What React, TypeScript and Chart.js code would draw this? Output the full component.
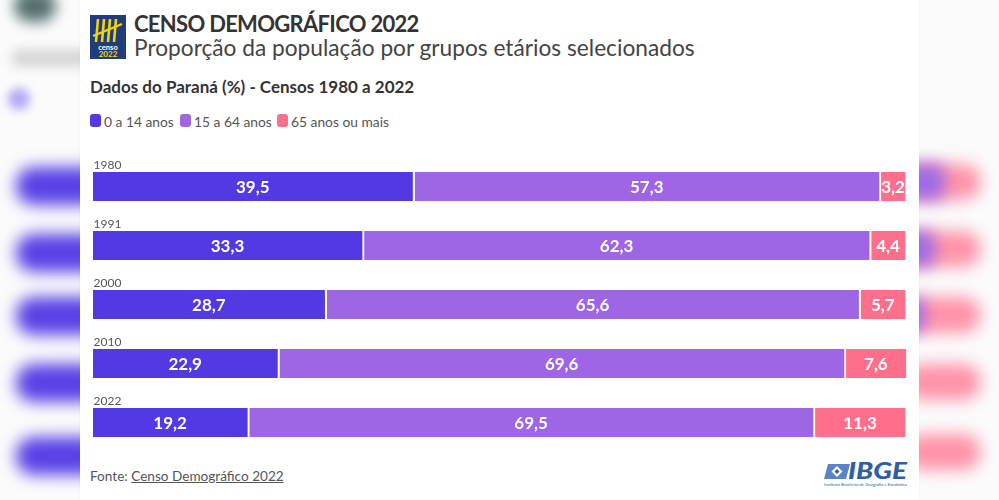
import React, { useEffect, useRef } from "react";
import { Chart, registerables } from "chart.js";

Chart.register(...registerables);

const categories = ["1980", "1991", "2000", "2010", "2022"];
const youngShare = [39.5, 33.3, 28.7, 22.9, 19.2];
const adultShare = [57.3, 62.3, 65.6, 69.6, 69.5];
const seniorShare = [3.2, 4.4, 5.7, 7.6, 11.3];
const seriesNames = ["0 a 14 anos", "15 a 64 anos", "65 anos ou mais"];
const seriesColors = ["#5339e3", "#9e66e4", "#ff6f8c"];

const FONT = "Lato, 'Source Sans Pro', 'Noto Sans', sans-serif";
const BAR_THICKNESS = 29;

const fmt = (v: number) => v.toFixed(1).replace(".", ",");

const labelPlugin = {
  id: "segmentLabels",
  afterDatasetsDraw(chart: any) {
    const ctx = chart.ctx;
    ctx.save();
    ctx.font = `700 17px ${FONT}`;
    ctx.fillStyle = "#ffffff";
    ctx.textAlign = "center";
    ctx.textBaseline = "middle";
    chart.data.datasets.forEach((ds: any, i: number) => {
      const meta = chart.getDatasetMeta(i);
      meta.data.forEach((bar: any, j: number) => {
        const p = bar.getProps(["x", "y", "base"], true);
        const cx = (p.x + p.base) / 2 - 1;
        ctx.fillText(fmt(ds.data[j]), cx, p.y + 1);
      });
    });
    const yScale = chart.scales.y;
    ctx.font = `400 12px ${FONT}`;
    ctx.fillStyle = "#555555";
    ctx.textAlign = "left";
    ctx.textBaseline = "alphabetic";
    categories.forEach((c, j) => {
      const y = yScale.getPixelForValue(j) - BAR_THICKNESS / 2 - 3;
      ctx.fillText(c, chart.chartArea.left + 0.5, y);
    });
    ctx.restore();
  },
};

function BarChart() {
  const ref = useRef<HTMLCanvasElement | null>(null);
  useEffect(() => {
    if (!ref.current) return;
    const seriesData = [youngShare, adultShare, seniorShare];
    const chart = new Chart(ref.current, {
      type: "bar",
      data: {
        labels: categories,
        datasets: seriesNames.map((name, i) => ({
          label: name,
          data: seriesData[i],
          backgroundColor: seriesColors[i],
          borderColor: "#ffffff",
          borderWidth: { top: 0, right: 2, bottom: 0, left: 0 },
          borderSkipped: false,
          barThickness: BAR_THICKNESS,
        })),
      },
      options: {
        indexAxis: "y",
        responsive: false,
        animation: false,
        events: [],
        layout: { padding: { top: 7, bottom: 8, left: 0, right: 0 } },
        scales: {
          x: { stacked: true, min: 0, max: 100, display: false },
          y: { stacked: true, display: false },
        },
        plugins: {
          legend: { display: false },
          tooltip: { enabled: false },
        },
      } as any,
      plugins: [labelPlugin],
    });
    return () => chart.destroy();
  }, []);
  return (
    <canvas
      ref={ref}
      width={814}
      height={310}
      style={{ position: "absolute", left: 93, top: 150, width: 814, height: 310 }}
    />
  );
}

function Text({ x, baseline, size, weight = 400, color = "#333", children, style = {} }: any) {
  return (
    <div
      style={{
        position: "absolute",
        left: x,
        top: baseline - 0.887 * size,
        fontFamily: FONT,
        fontSize: size,
        lineHeight: `${size}px`,
        fontWeight: weight,
        color,
        whiteSpace: "nowrap",
        ...style,
      }}
    >
      {children}
    </div>
  );
}

function Blob({ x, y, w, h, color, blur = 7, r = 16 }: any) {
  return (
    <div
      style={{
        position: "absolute",
        left: x,
        top: y,
        width: w,
        height: h,
        background: color,
        borderRadius: r,
        filter: `blur(${blur}px)`,
      }}
    />
  );
}

export default function App() {
  const legendX = [90, 180, 277];
  const rightBlobs = [
    { y: 164, p: 26 },
    { y: 231, p: 16 },
    { y: 297, p: 6 },
    { y: 364, p: 0 },
    { y: 434, p: 0 },
  ];
  const leftBlobY = [167, 234, 297, 364, 437];
  return (
    <div
      style={{
        position: "fixed",
        left: 0,
        top: 0,
        width: 999,
        height: 500,
        background: "#fbfbfc",
        overflow: "hidden",
      }}
    >
      <Blob x={14} y={-10} w={42} h={32} color="#56706f" blur={7} r={18} />
      <Blob x={12} y={50} w={80} h={16} color="#d3d3d3" blur={6} r={6} />
      <Blob x={8} y={88} w={22} h={22} color="#b3a9f6" blur={5} r={11} />
      {leftBlobY.map((y, i) => (
        <Blob key={"l" + i} x={16} y={y} w={90} h={38} color="#5a41e6" blur={8} r={18} />
      ))}
      {rightBlobs.map((b, i) => (
        <React.Fragment key={"r" + i}>
          <Blob x={905} y={b.y} w={76} h={36} color="#ff93a9" blur={8} r={18} />
          {b.p > 0 && (
            <Blob x={900} y={b.y} w={b.p + 19} h={36} color="#a06be6" blur={8} r={10} />
          )}
        </React.Fragment>
      ))}

      <div
        style={{
          position: "absolute",
          left: 80,
          top: 0,
          width: 839,
          height: 500,
          background: "#ffffff",
          boxShadow: "0 0 2px rgba(0,0,0,0.05)",
        }}
      />

      <svg
        width={36}
        height={44}
        viewBox="0 0 36 44"
        style={{ position: "absolute", left: 90, top: 15 }}
      >
        <rect x={0} y={0} width={36} height={44} fill="#1f3d7a" />
        {[7, 13, 19, 25].map((x, i) => (
          <line key={i} x1={x + 1} y1={4} x2={x - 1} y2={27} stroke="#f3d40b" strokeWidth={2.6} />
        ))}
        <line x1={3} y1={21} x2={32} y2={9} stroke="#f3d40b" strokeWidth={2.4} />
        <text x={18} y={34.5} textAnchor="middle" fontSize={7.5} fontFamily={FONT} fill="#ffffff" fontWeight={700}>
          censo
        </text>
        <text x={18} y={42} textAnchor="middle" fontSize={8} fontFamily={FONT} fill="#f3d40b" fontWeight={700}>
          2022
        </text>
      </svg>

      <Text x={134} baseline={33} size={22} weight={700} color="#333333" style={{ letterSpacing: -0.7 }}>
        CENSO DEMOGRÁFICO 2022
      </Text>
      <Text x={134} baseline={57} size={22.7} weight={400} color="#444444">
        Proporção da população por grupos etários selecionados
      </Text>
      <Text x={90} baseline={93} size={17} weight={700} color="#333333">
        Dados do Paraná (%) - Censos 1980 a 2022
      </Text>

      {seriesNames.map((name, i) => (
        <React.Fragment key={name}>
          <div
            style={{
              position: "absolute",
              left: legendX[i],
              top: 114,
              width: 11,
              height: 13,
              borderRadius: 3,
              background: seriesColors[i],
            }}
          />
          <Text x={legendX[i] + 14} baseline={127} size={13.8} color="#555555">
            {name}
          </Text>
        </React.Fragment>
      ))}

      <BarChart />

      <Text x={90} baseline={482} size={13.6} color="#555555">
        Fonte: <span style={{ textDecoration: "underline" }}>Censo Demográfico 2022</span>
      </Text>

      <svg
        width={86}
        height={28}
        viewBox="0 0 86 28"
        style={{ position: "absolute", left: 823, top: 461 }}
      >
        <polygon points="5,3 27,3 23,18 1,18" fill="#5b84c4" />
        <polygon points="14,5 19.5,10.5 14,16 8.5,10.5" fill="#ffffff" />
        <polygon points="14,8 16.5,10.5 14,13 11.5,10.5" fill="#2f5ea8" />
        <text
          x={25}
          y={18}
          fontSize={22}
          fontFamily={FONT}
          fontWeight={900}
          fontStyle="italic"
          fill="#2f5ea8"
          textLength={59}
          lengthAdjust="spacingAndGlyphs"
        >
          IBGE
        </text>
        <text x={1} y={25} fontSize={3.6} fontFamily={FONT} fill="#2f5ea8" textLength={83} lengthAdjust="spacingAndGlyphs">
          Instituto Brasileiro de Geografia e Estatística
        </text>
      </svg>
    </div>
  );
}
